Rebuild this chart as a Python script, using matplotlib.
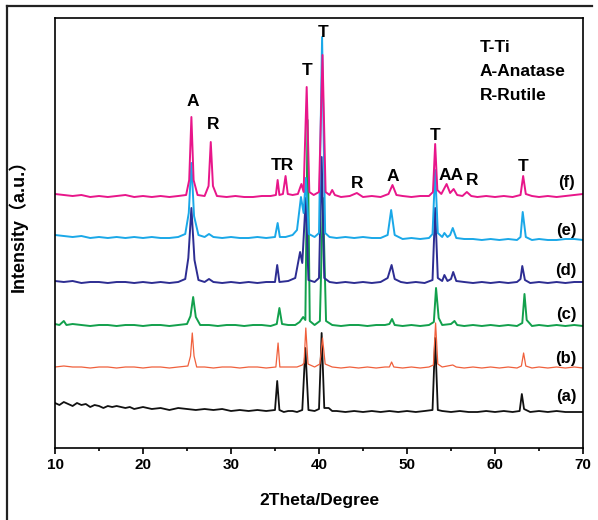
import numpy as np
import matplotlib.pyplot as plt
from matplotlib.lines import Line2D

plt.rcParams['font.family'] = ['Liberation Sans', 'Noto Sans CJK SC', 'DejaVu Sans']

# XRD patterns (2theta in degree, intensity in a.u., already offset)
x_a = [10, 10.5, 11, 11.5, 12, 12.5, 13, 13.5, 14, 14.5, 15, 15.5, 16, 16.5, 17, 18, 18.5, 19, 20, 20.5,
       21, 22, 23, 24, 25, 26, 27, 28, 29, 30, 31, 32, 33, 34, 35.0, 35.25, 35.5, 36, 36.5, 37, 37.5,
       38.1, 38.45, 38.8, 39.5, 40.0, 40.3, 40.6, 41.1, 41.5, 42, 43, 44, 45, 46, 47, 48, 49, 50, 51, 52,
       52.9, 53.2, 53.5, 54, 55, 56, 57, 58, 59, 60, 61, 62, 62.8, 63.05, 63.3, 64, 65, 66, 67, 68, 69, 70]
y_a = [45, 43, 46, 44, 42, 45, 43, 44, 41, 43, 42, 40, 42, 41, 42, 40, 41, 39, 41, 40,
       39, 40, 38, 40, 39, 38, 39, 38, 39, 37, 38, 37, 38, 37, 38, 67, 38, 36, 37, 37, 36,
       38, 100, 38, 37, 39, 115, 40, 40, 37, 37, 36, 37, 36, 37, 36, 37, 36, 37, 36, 37,
       38, 110, 38, 37, 36, 37, 36, 36, 37, 36, 37, 36, 37, 54, 39, 36, 37, 36, 37, 36, 36, 36]

x_b = [10, 11, 12, 13, 14, 15, 16, 17, 18, 19, 20, 21, 22, 23, 24, 25.1, 25.4, 25.6, 25.8, 26.1,
       27, 28, 29, 30, 31, 32, 33, 34, 35.1, 35.35, 35.55, 36.5, 37.5, 38.1, 38.3, 38.5, 38.75, 39.5,
       40.1, 40.4, 40.7, 41.5, 42.5, 43.5, 44.5, 45.5, 46.5, 47.5, 48.0, 48.25, 48.5, 49.5, 50.5, 51.5,
       52.5, 53.0, 53.25, 53.5, 54, 54.6, 55.2, 55.6, 56.5, 57.5, 58.5, 59.5, 60.5, 61.5, 62.5, 63.0,
       63.25, 63.5, 64.2, 65, 66, 67, 68, 69, 70]
y_b = [81, 82, 81, 81, 80, 81, 81, 80, 81, 81, 80, 81, 81, 80, 81, 82, 92, 115, 92, 81,
       81, 80, 81, 81, 80, 81, 81, 80, 81, 105, 81, 81, 81, 83, 85, 120, 84, 81,
       84, 110, 84, 81, 80, 81, 80, 81, 80, 81, 81, 86, 81, 80, 81, 80,
       81, 83, 125, 84, 81, 82, 83, 81, 80, 81, 80, 81, 80, 81, 80, 82,
       95, 82, 80, 81, 80, 81, 80, 81, 80]

x_c = [10, 10.5, 11.0, 11.3, 12, 13, 14, 15, 16, 17, 18, 19, 20, 21, 22, 23, 24, 25.0, 25.4, 25.7,
       26.0, 26.5, 27.5, 28.5, 29.5, 30.5, 31.5, 32.5, 33.5, 34.5, 35.2, 35.5, 35.8, 36.5, 37.3, 37.8,
       38.2, 38.45, 38.7, 38.95, 39.5, 40.1, 40.45, 40.8, 41.5, 42.5, 43.5, 44.5, 45.5, 46.5, 47.5, 48.0,
       48.3, 48.6, 49.5, 50.5, 51.5, 52.5, 53.05, 53.3, 53.6, 54.0, 55.0, 55.4, 55.7, 56.5, 57.5, 58.5,
       59.5, 60.5, 61.5, 62.5, 63.1, 63.35, 63.6, 64.2, 65, 66, 67, 68, 69, 70]
y_c = [124, 123, 127, 123, 124, 123, 122, 123, 123, 122, 123, 123, 122, 123, 123, 122, 123, 124, 132, 151,
       131, 123, 123, 122, 123, 123, 122, 123, 123, 122, 124, 140, 124, 123, 123, 126,
       131, 128, 328, 127, 123, 127, 250, 127, 123, 122, 123, 123, 122, 123, 123, 124,
       129, 123, 122, 123, 122, 123, 126, 160, 130, 123, 124, 127, 123, 122, 123, 122,
       123, 122, 123, 122, 125, 154, 128, 122, 123, 122, 123, 122, 123, 122]

x_d = [10, 11, 12, 13, 14, 15, 16, 17, 18, 19, 20, 21, 22, 23, 24, 24.8, 25.15, 25.5, 25.85, 26.3,
       27.0, 27.5, 28.0, 29, 30, 31, 32, 33, 34, 35.0, 35.25, 35.5, 36.5, 37.3, 37.85, 38.1, 38.5, 38.8,
       39.5, 40.0, 40.3, 40.6, 41.2, 42, 43, 44, 45, 46, 47, 47.8, 48.25, 48.6, 49.3, 50, 51, 52, 52.9,
       53.2, 53.5, 54.0, 54.25, 54.6, 55.0, 55.25, 55.6, 56.5, 57.5, 58.5, 59.5, 60.5, 61.5, 62.5, 62.9,
       63.1, 63.4, 64, 65, 66, 67, 68, 69, 70]
y_d = [167, 166, 167, 165, 166, 166, 165, 166, 166, 165, 166, 165, 166, 165, 166, 169, 190, 240, 188, 168,
       166, 169, 166, 165, 166, 165, 166, 165, 166, 166, 183, 166, 167, 170, 196, 185, 250, 168,
       166, 170, 291, 170, 166, 165, 166, 165, 166, 165, 166, 170, 183, 169, 166, 165, 166, 165, 168,
       240, 170, 167, 173, 167, 169, 176, 167, 166, 165, 166, 165, 166, 165, 166, 169,
       182, 168, 165, 166, 165, 166, 165, 166, 166]

x_e = [10, 11, 12, 13, 14, 15, 16, 17, 18, 19, 20, 21, 22, 23, 24, 24.8, 25.2, 25.5, 25.8, 26.3,
       27.0, 27.5, 28.0, 29, 30, 31, 32, 33, 34, 35.0, 35.3, 35.55, 36.2, 37.0, 37.5, 37.95, 38.25,
       38.5, 38.85, 39.5, 40.0, 40.35, 40.7, 41.2, 42, 43, 44, 45, 46, 47, 47.8, 48.2, 48.6, 49.5,
       50.5, 51.5, 52.5, 52.9, 53.2, 53.5, 54.0, 54.25, 54.6, 54.9, 55.2, 55.6, 56.5, 57.5, 58.5,
       59.5, 60.5, 61.5, 62.5, 62.9, 63.15, 63.5, 64.2, 65, 66, 67, 68, 69, 70]
y_e = [213, 212, 211, 212, 210, 211, 210, 211, 210, 211, 210, 211, 210, 210, 211, 214, 235, 285, 232, 213,
       211, 214, 211, 210, 211, 210, 210, 211, 210, 211, 225, 211, 211, 213, 218, 251, 235,
       270, 214, 211, 215, 411, 215, 211, 210, 211, 210, 211, 210, 210, 213, 238, 213, 209,
       210, 209, 210, 214, 278, 215, 211, 215, 211, 213, 220, 210, 209, 209, 208,
       209, 208, 209, 208, 211, 236, 211, 208, 209, 208, 208, 209, 209, 208]

x_f = [10, 11, 12, 13, 14, 15, 16, 17, 18, 19, 20, 21, 22, 23, 24, 24.9, 25.25, 25.5, 25.75, 26.2,
       27.0, 27.45, 27.7, 27.95, 28.4, 29.5, 30.5, 31.5, 32.5, 33.5, 34.5, 35.1, 35.3, 35.5, 35.9,
       36.2, 36.45, 37.0, 37.6, 38.0, 38.25, 38.6, 38.9, 39.4, 40.0, 40.4, 40.75, 41.2, 41.5, 41.8,
       42.5, 43.5, 44.3, 45.0, 46, 47, 47.9, 48.35, 48.8, 49.5, 50.5, 51.5, 52.5, 52.95, 53.2, 53.45,
       53.9, 54.5, 54.9, 55.3, 55.7, 56.3, 56.8, 57.3, 58, 59, 60, 61, 62, 62.9, 63.2, 63.5, 64.2,
       65, 66, 67, 68, 69, 70]
y_f = [254, 253, 252, 253, 251, 252, 251, 252, 253, 251, 252, 251, 252, 251, 252, 253, 268, 331, 268, 253,
       252, 262, 306, 262, 252, 251, 252, 251, 251, 252, 252, 253, 268, 253, 254,
       272, 254, 253, 254, 264, 256, 361, 256, 253, 256, 393, 256, 253, 258, 253,
       251, 252, 255, 251, 252, 251, 254, 263, 253, 252, 251, 252, 252, 256, 304, 258,
       254, 264, 255, 259, 253, 252, 256, 252, 251, 252, 251, 252, 251, 253, 272, 254, 252,
       251, 252, 251, 252, 253, 254]

sample_names = ['(a)', '(b)', '(c)', '(d)', '(e)', '(f)']
sample_colors = ['#111111', '#f0603c', '#12a04c', '#2d2d92', '#1aa8e8', '#e8168a']
label_y = [51, 90, 133, 177, 218, 266]

peak_marks = ['A', 'R', 'TR', 'T', 'T', 'R', 'A', 'T', 'AA', 'R', 'T']
peak_mark_x = [25.7, 27.95, 35.8, 38.6, 40.45, 44.3, 48.4, 53.2, 55.05, 57.4, 63.2]
peak_mark_y = [347, 324, 283, 378, 416, 265, 272, 313, 273, 268, 282]

key_lines = ['T-Ti', 'A-Anatase', 'R-Rutile']
key_y = [401, 377, 353]

fig = plt.figure(figsize=(5.98, 5.2), dpi=100)
ax = fig.add_axes([55/598, 72/520, 528/598, 430/520])

series = [(x_a, y_a), (x_b, y_b), (x_c, y_c), (x_d, y_d), (x_e, y_e), (x_f, y_f)]
widths = [1.3, 0.9, 1.4, 1.4, 1.4, 1.4]
for (xs, ys), col, lw in zip(series, sample_colors, widths):
    ax.plot(xs, ys, color=col, lw=lw, solid_joinstyle='round')

for name, yy in zip(sample_names, label_y):
    ax.text(68.1, yy, name, ha='center', va='center', fontsize=12, fontweight='bold')

for m, xx, yy in zip(peak_marks, peak_mark_x, peak_mark_y):
    ax.text(xx, yy, m, ha='center', va='center', fontsize=12.5, fontweight='bold')

for t, yy in zip(key_lines, key_y):
    ax.text(58.3, yy, t, ha='left', va='center', fontsize=12.5, fontweight='bold')

ax.set_xlim(10, 70)
ax.set_ylim(0, 430)
ax.set_xticks(np.arange(10, 71, 10))
ax.set_xticks(np.arange(15, 70, 10), minor=True)
ax.set_yticks([])
ax.tick_params(axis='x', which='major', direction='out', length=4, width=1.2, labelsize=11, pad=3)
ax.tick_params(axis='x', which='minor', direction='out', length=2.5, width=1.2)
for lab in ax.get_xticklabels():
    lab.set_fontweight('bold')
for sp in ax.spines.values():
    sp.set_linewidth(1.2)

ax.set_xlabel('2Theta/Degree', fontsize=12.5, fontweight='bold', labelpad=15)
ax.set_ylabel('Intensity（a.u.）', fontsize=13, fontweight='bold')
ax.yaxis.set_label_coords(-0.051, 0.528)

# outer frame (top and left only)
fig.add_artist(Line2D([7/598, 592/598], [1 - 6/520, 1 - 6/520], color='#222222', lw=1.6))
fig.add_artist(Line2D([7/598, 7/598], [0, 1 - 6/520], color='#222222', lw=1.6))

fig.savefig('out.png', dpi=100)
